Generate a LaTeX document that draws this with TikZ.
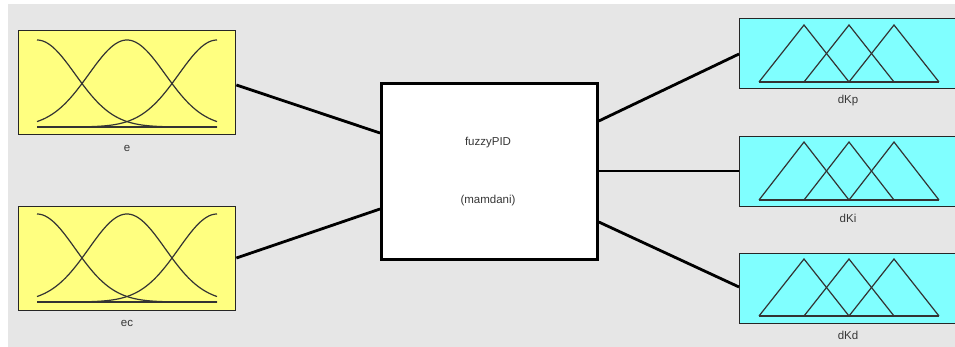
\documentclass[tikz,border=0pt]{standalone}
\usepackage{fontspec}
\setmainfont{Liberation Sans}
\definecolor{bggrey}{RGB}{230,230,230}
\definecolor{inyellow}{RGB}{255,255,128}
\definecolor{outcyan}{RGB}{128,255,255}
\definecolor{txtgrey}{RGB}{55,55,55}
\begin{document}
\begin{tikzpicture}[x=1pt,y=-1pt,
  inbox/.style={draw=black!85,line width=1.4pt,fill=inyellow,minimum width=217pt,minimum height=104pt,inner sep=0pt,anchor=north west},
  outbox/.style={draw=black!85,line width=1.4pt,fill=outcyan,minimum width=260pt,minimum height=70pt,inner sep=0pt,anchor=north west},
  sysbox/.style={draw=black,line width=2.8pt,fill=white,minimum width=216pt,minimum height=176pt,inner sep=0pt,anchor=north west},
  lbl/.style={text=txtgrey,font=\fontsize{11.5}{13}\selectfont,inner sep=0pt},
  mf/.style={draw=black!80,line width=1.2pt},
  conn/.style={draw=black,line width=2.8pt}]
\useasboundingbox (0,0) rectangle (955,347);
\fill[bggrey] (8,4) rectangle (1000,360);
% input boxes
\node[inbox] (e) at (18,30) {};
\node[inbox] (ec) at (18,206) {};
\node[lbl] (elbl) at (127,148) {e};
\node[lbl] (eclbl) at (127,323) {ec};
% gaussian MFs
\foreach \top/\base in {40/127, 214/302}{
  \pgfmathsetmacro{\hh}{\base-\top}
  \draw[mf] (37,\base) -- (217,\base);
  \foreach \mu in {37,127,217}{
    \draw[mf] plot[domain=37:217,samples=70,smooth] (\x,{\base-\hh*exp(-0.5*((\x-\mu)/38.2)^2)});
  }
}
% system box
\node[sysbox] (sys) at (380,82) {};
\node[lbl] (sname) at (488,143) {fuzzyPID};
\node[lbl] (stype) at (488,201) {(mamdani)};
% output boxes
\node[outbox] (kp) at (739,18) {};
\node[outbox] (ki) at (739,136) {};
\node[outbox] (kd) at (739,253) {};
\node[lbl] (kplbl) at (848,101) {dKp};
\node[lbl] (kilbl) at (848,218) {dKi};
\node[lbl] (kdlbl) at (848,335) {dKd};
% triangular MFs
\foreach \top/\base in {25/82, 142/200, 259/316}{
  \draw[mf] (759,\base) -- (939,\base);
  \draw[mf] (759,\base) -- (804,\top) -- (849,\base);
  \draw[mf] (804,\base) -- (849,\top) -- (894,\base);
  \draw[mf] (849,\base) -- (894,\top) -- (939,\base);
}
% connectors
\draw[conn] (e.east |- 0,85) -- (sys.west |- 0,133);
\draw[conn] (ec.east |- 0,258) -- (sys.west |- 0,209);
\draw[conn] (sys.east |- 0,121) -- (kp.west |- 0,54);
\draw[conn] (sys.east |- 0,171) -- (ki.west |- 0,171);
\draw[conn] (sys.east |- 0,222) -- (kd.west |- 0,287);
\end{tikzpicture}
\end{document}
